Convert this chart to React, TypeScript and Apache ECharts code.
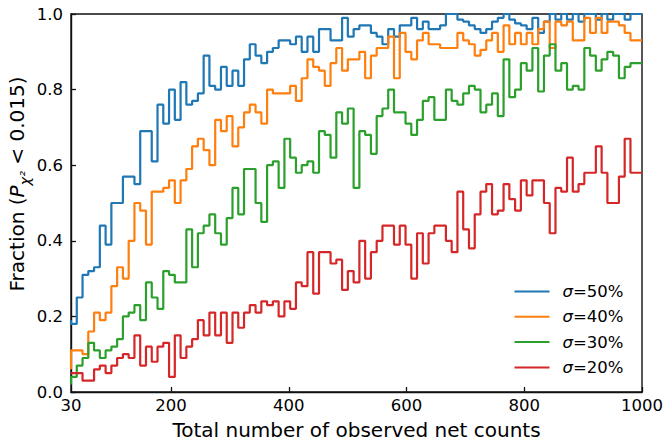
import React, { useEffect, useRef } from "react";
import * as echarts from "echarts";

// ---- data ----
const xMin = 30;
const xMax = 1000;
const binCount = 99; // bin edges: 100 evenly spaced values from 30 to 1000
const binEdges = Array.from({ length: binCount + 1 }, (_, k) => xMin + ((xMax - xMin) * k) / binCount);

const xTickLabels = [30, 200, 400, 600, 800, 1000];
const xTickMarks = [200, 400, 600, 800, 1000];
const yTickValues = [0, 0.2, 0.4, 0.6, 0.8, 1.0];

const seriesNames = ["σ=50%", "σ=40%", "σ=30%", "σ=20%"];
const seriesColors = ["#1f77b4", "#ff7f0e", "#2ca02c", "#d62728"];

const sigma50 = [
  0.19, 0.18, 0.25, 0.31, 0.32, 0.33, 0.44, 0.39, 0.5, 0.5,
  0.57, 0.57, 0.55, 0.69, 0.69, 0.61, 0.76, 0.71, 0.8, 0.72,
  0.82, 0.76, 0.77, 0.79, 0.89, 0.81, 0.8, 0.86, 0.81, 0.85,
  0.81, 0.88, 0.92, 0.89, 0.87, 0.9, 0.91, 0.93, 0.93, 0.92,
  0.94, 0.9, 0.94, 0.9, 0.96, 0.96, 0.93, 0.93, 0.99, 0.94,
  0.96, 0.97, 0.97, 0.95, 0.94, 0.92, 0.96, 0.94, 0.97, 0.97,
  0.99, 0.96, 0.98, 0.96, 0.96, 0.97, 1.0, 1.0, 0.985, 0.98,
  0.97, 0.96, 0.95, 0.96, 0.98, 0.99, 1.0, 0.985, 0.975, 0.97,
  0.96, 0.99, 0.95, 0.98, 1.0, 0.985, 1.0, 0.985, 1.0, 0.98,
  1.0, 1.0, 0.985, 1.0, 0.985, 1.0, 1.0, 0.985, 1.0,
];

const sigma40 = [
  0.06, 0.11, 0.11, 0.1, 0.16, 0.21, 0.19, 0.21, 0.28, 0.33,
  0.3, 0.4, 0.5, 0.48, 0.39, 0.53, 0.53, 0.54, 0.56, 0.5,
  0.56, 0.59, 0.65, 0.67, 0.64, 0.6, 0.72, 0.69, 0.73, 0.65,
  0.7, 0.74, 0.76, 0.74, 0.71, 0.8, 0.79, 0.79, 0.79, 0.81,
  0.77, 0.83, 0.88, 0.86, 0.85, 0.81, 0.87, 0.91, 0.85, 0.88,
  0.88, 0.9, 0.83, 0.89, 0.91, 0.91, 0.94, 0.83, 0.95, 0.9,
  0.88, 0.93, 0.95, 0.92, 0.92, 0.91, 0.91, 0.91, 0.95, 0.93,
  0.92, 0.89, 0.905, 0.93, 0.95, 0.9, 0.97, 0.92, 0.95, 0.92,
  0.95, 0.92, 0.96, 0.98, 0.91, 0.98, 0.97, 0.98, 0.93, 0.93,
  0.99, 0.95, 0.99, 0.95, 0.98, 0.98, 0.97, 0.95, 0.93,
];

const sigma30 = [
  0.02, 0.04, 0.07, 0.09, 0.13, 0.11, 0.09, 0.11, 0.12, 0.14,
  0.2, 0.21, 0.23, 0.19, 0.29, 0.25, 0.22, 0.32, 0.31, 0.29,
  0.29, 0.43, 0.33, 0.42, 0.44, 0.47, 0.42, 0.39, 0.46, 0.54,
  0.47, 0.59, 0.59, 0.5, 0.45, 0.6, 0.61, 0.54, 0.67, 0.62,
  0.58, 0.6, 0.61, 0.58, 0.69, 0.68, 0.62, 0.74, 0.71, 0.75,
  0.54, 0.69, 0.68, 0.63, 0.73, 0.75, 0.8, 0.74, 0.74, 0.71,
  0.68, 0.72, 0.77, 0.78, 0.72, 0.72, 0.8, 0.77, 0.76, 0.79,
  0.81, 0.8, 0.74, 0.76, 0.79, 0.73, 0.88, 0.78, 0.8, 0.87,
  0.85, 0.91, 0.795, 0.89, 0.92, 0.85, 0.87, 0.8, 0.81, 0.8,
  0.91, 0.89, 0.85, 0.88, 0.9, 0.89, 0.83, 0.86, 0.87,
];

const sigma20 = [
  0.05, 0.05, 0.05, 0.03, 0.03, 0.06, 0.07, 0.05, 0.07, 0.09,
  0.1, 0.09, 0.15, 0.07, 0.12, 0.08, 0.12, 0.13, 0.04, 0.15,
  0.09, 0.12, 0.14, 0.19, 0.15, 0.21, 0.15, 0.21, 0.13, 0.21,
  0.17, 0.21, 0.23, 0.21, 0.24, 0.23, 0.24, 0.2, 0.24, 0.22,
  0.29, 0.28, 0.37, 0.26, 0.37, 0.37, 0.34, 0.35, 0.27, 0.32,
  0.29, 0.4, 0.3, 0.37, 0.4, 0.44, 0.44, 0.39, 0.44, 0.39,
  0.3, 0.42, 0.34, 0.42, 0.44, 0.44, 0.4, 0.37, 0.53, 0.43,
  0.38, 0.47, 0.53, 0.55, 0.47, 0.48, 0.55, 0.51, 0.48, 0.56,
  0.52, 0.56, 0.56, 0.5, 0.42, 0.54, 0.53, 0.62, 0.53, 0.55,
  0.58, 0.58, 0.65, 0.58, 0.5, 0.5, 0.57, 0.67, 0.58,
];

const allSeries = [sigma50, sigma40, sigma30, sigma20];

const FONT = "DejaVu Sans";

function toStepPoints(values: number[]) {
  const pts = values.map((v, k) => [binEdges[k], v]);
  pts.push([binEdges[binCount], values[values.length - 1]]);
  return pts;
}

export default function App() {
  const ref = useRef<HTMLDivElement>(null);

  useEffect(() => {
    if (!ref.current) return;
    const chart = echarts.init(ref.current, null, { renderer: "svg" });

    const option: any = {
      animation: false,
      backgroundColor: "#ffffff",
      grid: {
        left: 71,
        right: 23,
        top: 14,
        bottom: 51,
        show: true,
        borderColor: "#111",
        borderWidth: 1.4,
        backgroundColor: "transparent",
        containLabel: false,
        outerBoundsMode: "none",
      },
      xAxis: {
        type: "value",
        min: xMin,
        max: xMax,
        splitLine: { show: false },
        axisLine: { show: true, onZero: false, lineStyle: { color: "#111", width: 1.4 } },
        axisTick: {
          show: true,
          inside: true,
          length: 5,
          customValues: xTickMarks,
          lineStyle: { color: "#111", width: 1.3 },
        },
        axisLabel: {
          customValues: xTickLabels,
          formatter: (v: number) => String(Math.round(v)),
          fontFamily: FONT,
          fontSize: 16.5,
          color: "#000",
          margin: 5,
        },
      },
      yAxis: {
        type: "value",
        min: 0,
        max: 1,
        interval: 0.2,
        splitLine: { show: false },
        axisLine: { show: true, onZero: false, lineStyle: { color: "#111", width: 1.4 } },
        axisTick: {
          show: true,
          inside: true,
          length: 5,
          customValues: yTickValues,
          lineStyle: { color: "#111", width: 1.3 },
        },
        axisLabel: {
          customValues: yTickValues,
          formatter: (v: number) => v.toFixed(1),
          fontFamily: FONT,
          fontSize: 16.5,
          color: "#000",
          margin: 8,
        },
      },
      legend: {
        orient: "vertical",
        left: 514.5,
        top: 283,
        padding: 0,
        itemWidth: 35,
        itemHeight: 2,
        itemGap: 8.3,
        icon: "rect",
        data: seriesNames,
        formatter: (name: string) => `{i|σ}{n|${name.slice(1)}}`,
        textStyle: {
          padding: [0, 0, 0, 8],
          rich: {
            i: { fontFamily: FONT, fontSize: 16.5, fontStyle: "italic", color: "#000", lineHeight: 20 },
            n: { fontFamily: FONT, fontSize: 16.5, color: "#000", lineHeight: 20 },
          },
        },
      },
      series: allSeries.map((vals, i) => ({
        name: seriesNames[i],
        type: "line",
        step: "start",
        data: toStepPoints(vals),
        showSymbol: false,
        symbol: "none",
        clip: true,
        color: seriesColors[i],
        lineStyle: { color: seriesColors[i], width: 2.2 },
        z: 2 + i,
      })),
      graphic: [
        {
          type: "text",
          x: 356.5,
          y: 430,
          style: {
            text: "Total number of observed net counts",
            fontFamily: FONT,
            fontSize: 20,
            fill: "#000",
            align: "center",
            verticalAlign: "middle",
          },
        },
        {
          type: "text",
          x: 19,
          y: 184,
          rotation: Math.PI / 2,
          style: {
            text: "{a|Fraction (}{p|P}{s|χ²}{a| < 0.015)}",
            align: "center",
            verticalAlign: "middle",
            fill: "#000",
            rich: {
              a: { fontFamily: FONT, fontSize: 20, lineHeight: 24, verticalAlign: "top", fill: "#000" },
              p: { fontFamily: FONT, fontSize: 20, fontStyle: "italic", lineHeight: 24, verticalAlign: "top", fill: "#000" },
              s: {
                fontFamily: FONT,
                fontSize: 14.5,
                fontStyle: "italic",
                lineHeight: 17,
                padding: [10, 0, 0, 0],
                verticalAlign: "top",
                fill: "#000",
              },
            },
          },
        },
      ],
    };

    chart.setOption(option);
    return () => chart.dispose();
  }, []);

  return (
    <div
      ref={ref}
      style={{ position: "fixed", left: 0, top: 0, width: 665, height: 443, background: "#fff" }}
    />
  );
}
